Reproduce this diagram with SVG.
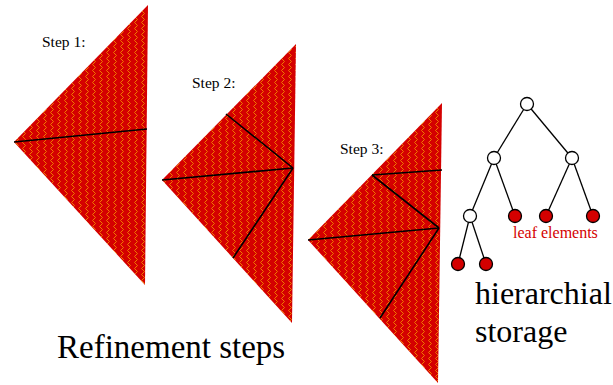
<svg xmlns="http://www.w3.org/2000/svg" width="613" height="385" viewBox="0 0 613 385">
<defs>
<pattern id="zig" patternUnits="userSpaceOnUse" width="7" height="6">
<rect width="7" height="6" fill="#d40000"/>
<path d="M3,0 L4.5,1.5 L3,3 L1.5,4.5 L3,6" fill="none" stroke="#f07800" stroke-width="1"/>
</pattern>
<style>
.tri{fill:url(#zig);}
.edge{stroke:#000;stroke-width:1.6;fill:none;}
.tl{stroke:#000;stroke-width:1.3;}
.lbl{font-family:"Liberation Serif",serif;fill:#000;}
.inner{fill:#fff;stroke:#000;stroke-width:1.3;}
.leaf{fill:#d40000;stroke:#000;stroke-width:1.3;}
</style>
</defs>
<rect width="613" height="385" fill="#fff"/>
<g id="step1">
<polygon class="tri" points="148,5 14,142 145,285"/>
<line class="edge" x1="14" y1="142" x2="147" y2="129"/>
<text class="lbl" x="42" y="47" font-size="15.5">Step 1:</text>
</g>
<g id="step2">
<polygon class="tri" points="296,44 162,180 292,323"/>
<line class="edge" x1="162" y1="180" x2="293" y2="168"/>
<line class="edge" x1="293" y1="168" x2="226" y2="114"/>
<line class="edge" x1="293" y1="168" x2="233" y2="258"/>
<text class="lbl" x="192" y="88" font-size="15.5">Step 2:</text>
</g>
<g id="step3">
<polygon class="tri" points="442,103 308,240 438,383"/>
<line class="edge" x1="308" y1="240" x2="439" y2="228"/>
<line class="edge" x1="439" y1="228" x2="372" y2="175"/>
<line class="edge" x1="372" y1="175" x2="442" y2="170"/>
<line class="edge" x1="439" y1="228" x2="380" y2="318"/>
<text class="lbl" x="340" y="154" font-size="15.5">Step 3:</text>
</g>
<g id="connectors">
<line class="tl" x1="527" y1="104" x2="494" y2="158"/>
<line class="tl" x1="527" y1="104" x2="572" y2="158"/>
<line class="tl" x1="494" y1="158" x2="470" y2="216"/>
<line class="tl" x1="494" y1="158" x2="515" y2="216"/>
<line class="tl" x1="572" y1="158" x2="546" y2="216"/>
<line class="tl" x1="572" y1="158" x2="593" y2="216"/>
<line class="tl" x1="470" y1="216" x2="458" y2="264"/>
<line class="tl" x1="470" y1="216" x2="486" y2="264"/>
</g>
<g id="root"><circle class="inner" cx="527" cy="104" r="6.5"/></g>
<g id="n1"><circle class="inner" cx="494" cy="158" r="6.5"/></g>
<g id="n2"><circle class="inner" cx="572" cy="158" r="6.5"/></g>
<g id="n3"><circle class="inner" cx="470" cy="216" r="6.5"/></g>
<g id="leaf1"><circle class="leaf" cx="515" cy="216" r="6.5"/></g>
<g id="leaf2"><circle class="leaf" cx="546" cy="216" r="6.5"/></g>
<g id="leaf3"><circle class="leaf" cx="593" cy="216" r="6.5"/></g>
<g id="leaf4"><circle class="leaf" cx="458" cy="264" r="6.5"/></g>
<g id="leaf5"><circle class="leaf" cx="486" cy="264" r="6.5"/></g>
<text x="513" y="238" font-family="Liberation Serif, serif" font-size="16" fill="#d40000">leaf elements</text>
<text class="lbl" x="475" y="304" font-size="32">hierarchial</text>
<text class="lbl" x="475" y="342" font-size="32">storage</text>
<text class="lbl" x="57" y="358" font-size="33">Refinement steps</text>
</svg>
